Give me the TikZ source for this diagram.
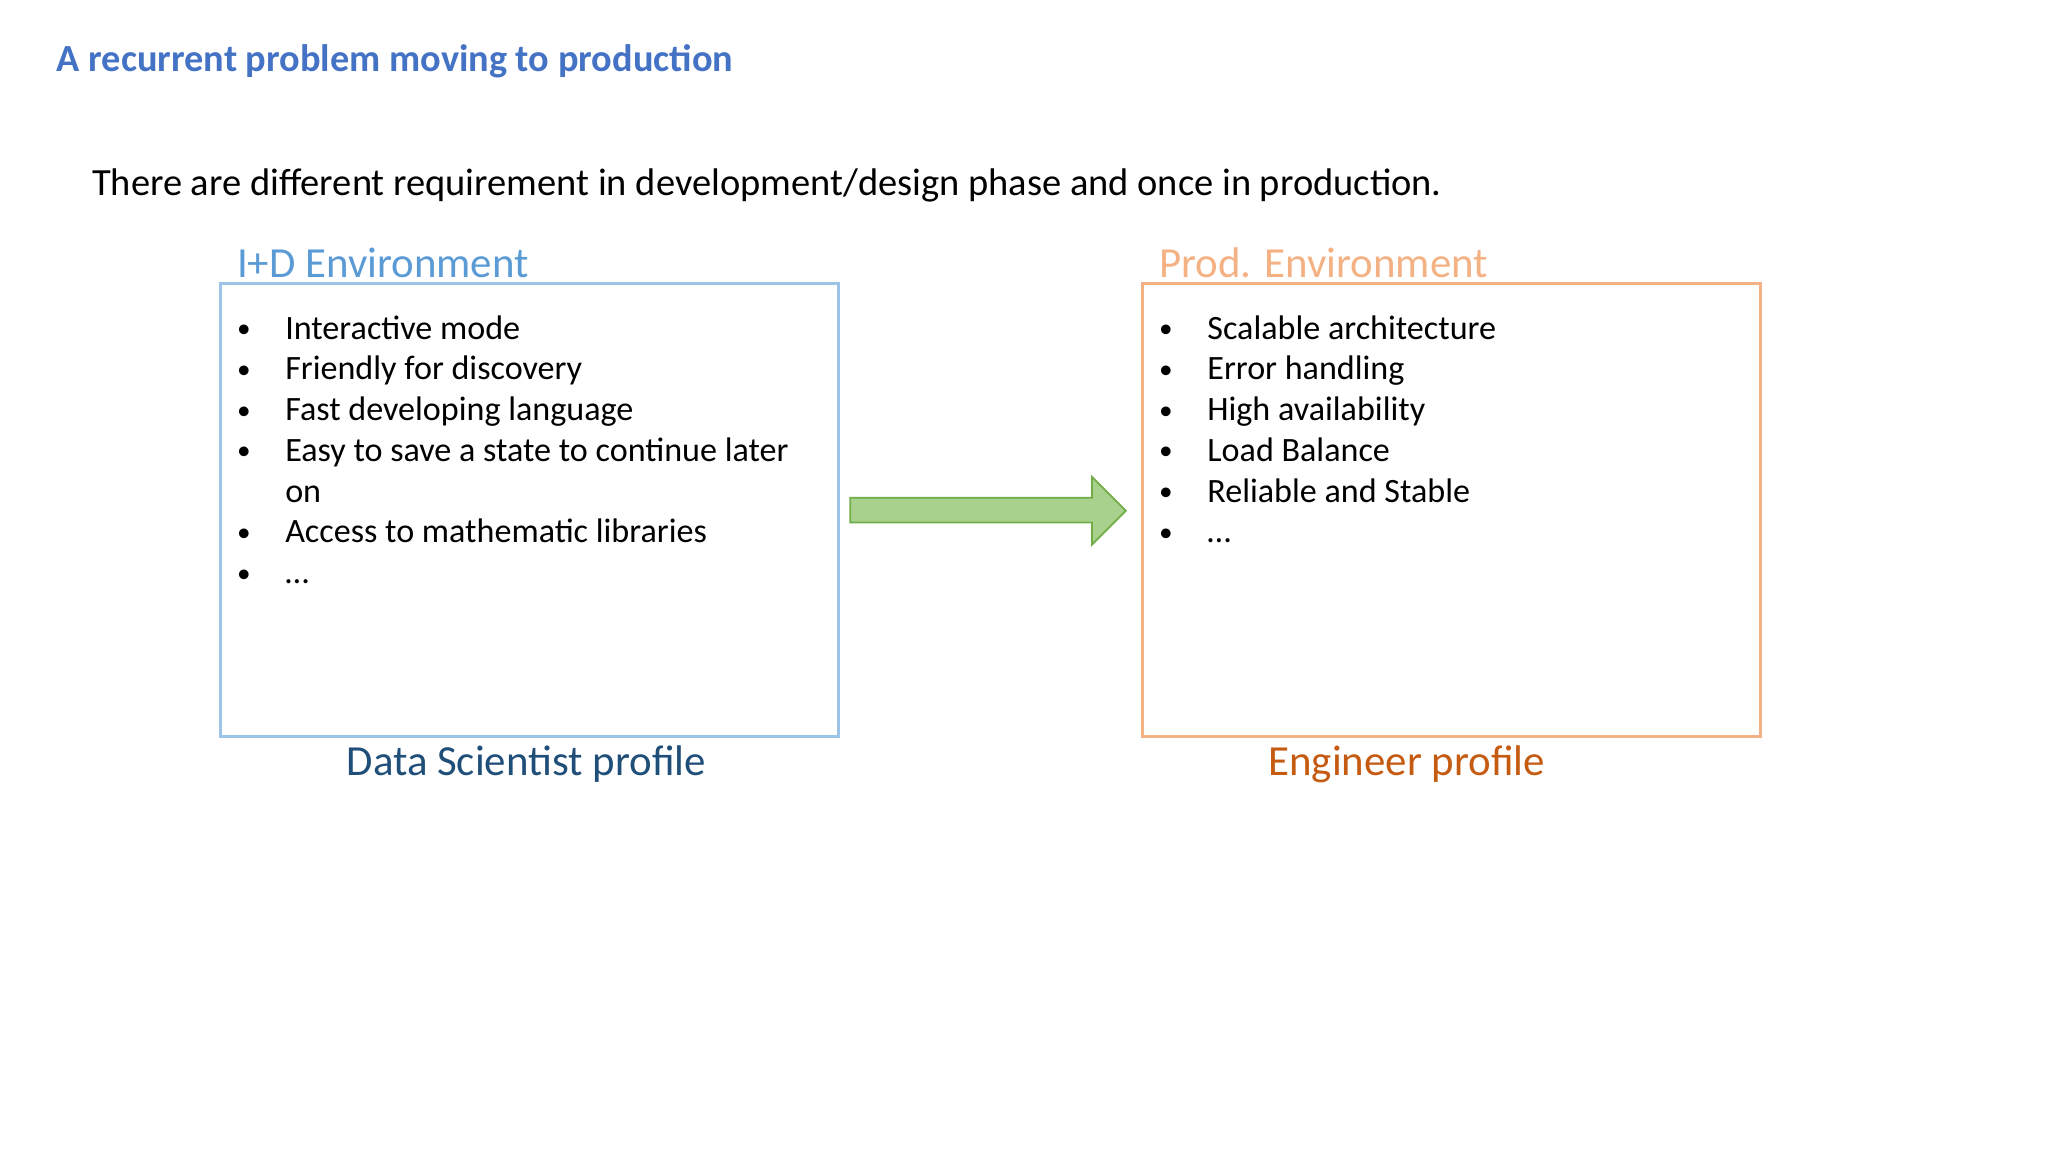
\documentclass[tikz,border=0pt]{standalone}
\usepackage{fontspec}
\setmainfont{Carlito}
\definecolor{ttl}{RGB}{68,114,196}
\definecolor{idc}{RGB}{91,155,213}
\definecolor{idb}{RGB}{157,195,230}
\definecolor{prc}{RGB}{244,177,131}
\definecolor{dsc}{RGB}{31,78,121}
\definecolor{eng}{RGB}{197,90,17}
\definecolor{agf}{RGB}{169,209,142}
\definecolor{agd}{RGB}{112,173,71}
\newcommand{\bul}{\makebox[13.7pt][l]{\raisebox{0.1ex}{\scalebox{0.8}{•}}}}
\begin{document}
\begin{tikzpicture}[x=0.013061cm,y=-0.013061cm,
  txt/.style={anchor=west,inner sep=0,font=\fontsize{10.95}{13}\selectfont},
  hdr/.style={anchor=west,inner sep=0,font=\fontsize{12.2}{14}\selectfont},
  lst/.style={anchor=north west,inner sep=0,align=left,font=\fontsize{9.7}{11.6}\selectfont}]
\useasboundingbox (0,0) rectangle (1568,882);
\node[anchor=west,inner sep=0,text=ttl,font=\fontsize{10.9}{13}\selectfont\bfseries] (title) at (43,47) {A recurrent problem moving to production};
\node[txt] (intro) at (70,142) {There are different requirement in development/design phase and once in production.};
\node[hdr,text=idc] (idh) at (181,201) {I+D Environment};
\node[hdr,text=prc] (prh) at (887,201) {Prod. Environment};
\draw[idb,line width=0.8pt] (169,217) rectangle (642,564);
\draw[prc,line width=0.8pt] (875,217) rectangle (1348,564);
\coordinate (idr) at (642,391);
\coordinate (prl0) at (875,391);
\node[lst] (idl) at (181,241) {%
\bul Interactive mode\\
\bul Friendly for discovery\\
\bul Fast developing language\\
\bul Easy to save a state to continue later\\
\hspace*{13.7pt}on\\
\bul Access to mathematic libraries\\
\bul …};
\node[lst] (prl) at (887,241) {%
\bul Scalable architecture\\
\bul Error handling\\
\bul High availability\\
\bul Load Balance\\
\bul Reliable and Stable\\
\bul …};
\node[hdr,anchor=center,text=dsc] (ds) at (403,585) {Data Scientist profile};
\node[hdr,anchor=center,text=eng] (en) at (1077,585) {Engineer profile};
\draw[fill=agf,draw=agd,line width=0.5pt] (651,381) -- (836,381) -- (836,365) -- (862,391) -- (836,417) -- (836,400) -- (651,400) -- cycle;
\end{tikzpicture}
\end{document}
